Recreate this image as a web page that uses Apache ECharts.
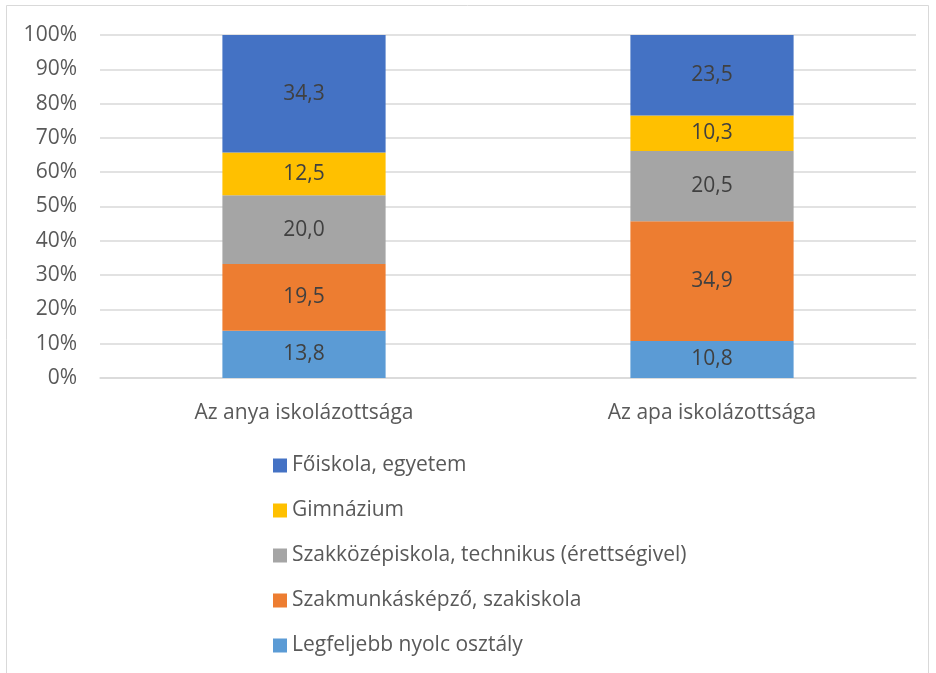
<!DOCTYPE html>
<html>
<head>
<meta charset="utf-8">
<script src="https://cdn.jsdelivr.net/npm/echarts@6/dist/echarts.min.js"></script>
<style>
html, body { margin: 0; padding: 0; background: #fff; }
#chart { width: 936px; height: 673px; }
</style>
</head>
<body>
<div id="chart"></div>
<script>
var categories = ['Az anya iskolázottsága', 'Az apa iskolázottsága'];
var seriesNames = [
    'Legfeljebb nyolc osztály',
    'Szakmunkásképző, szakiskola',
    'Szakközépiskola, technikus (érettségivel)',
    'Gimnázium',
    'Főiskola, egyetem'
];
var legfeljebb = [13.8, 10.8];
var szakmunkas = [19.5, 34.9];
var szakkozep = [20.0, 20.5];
var gimnazium = [12.5, 10.3];
var foiskola = [34.3, 23.5];
var colors = ['#5B9BD5', '#ED7D31', '#A5A5A5', '#FFC000', '#4472C4'];

var allValues = [legfeljebb, szakmunkas, szakkozep, gimnazium, foiskola];

// 100% stacked: scale every column to its own total
var totals = categories.map(function (c, i) {
    return allValues.reduce(function (s, arr) { return s + arr[i]; }, 0);
});

var fontFamily = 'Open Sans';
var fs = 21;

var series = allValues.map(function (arr, k) {
    return {
        name: seriesNames[k],
        type: 'bar',
        stack: 'total',
        barWidth: '40%',
        itemStyle: { color: colors[k] },
        label: {
            show: true,
            position: 'inside',
            color: '#404040',
            fontSize: fs,
            fontFamily: fontFamily,
            formatter: function (p) {
                return arr[p.dataIndex].toFixed(1).replace('.', ',');
            }
        },
        data: arr.map(function (v, i) { return v / totals[i] * 100; })
    };
});

var chart = echarts.init(document.getElementById('chart'));
chart.setOption({
    backgroundColor: '#fff',
    animation: false,
    graphic: [{
        type: 'rect',
        shape: { x: 6.5, y: 5.5, width: 922, height: 680 },
        style: { fill: 'none', stroke: '#d9d9d9', lineWidth: 1 }
    }],
    grid: {
        left: 100,
        right: 20,
        top: 35,
        bottom: 295
    },
    xAxis: {
        type: 'category',
        data: categories,
        axisLine: { show: true, lineStyle: { color: '#d9d9d9', width: 1.5 } },
        axisTick: { show: false },
        axisLabel: {
            color: '#595959',
            fontSize: fs,
            fontFamily: fontFamily,
            margin: 25
        }
    },
    yAxis: {
        type: 'value',
        min: 0,
        max: 100,
        interval: 10,
        axisLine: { show: false },
        axisTick: { show: false },
        splitLine: { lineStyle: { color: '#d9d9d9', width: 1.5 } },
        axisLabel: {
            color: '#595959',
            fontSize: fs,
            fontFamily: fontFamily,
            margin: 23,
            formatter: '{value}%'
        }
    },
    legend: {
        orient: 'vertical',
        left: 268,
        top: 450,
        height: 220,
        itemWidth: 14,
        itemHeight: 14,
        itemGap: 24,
        icon: 'rect',
        textStyle: {
            color: '#595959',
            fontSize: fs,
            fontFamily: fontFamily
        },
        data: seriesNames.slice().reverse()
    },
    series: series
});
</script>
</body>
</html>
